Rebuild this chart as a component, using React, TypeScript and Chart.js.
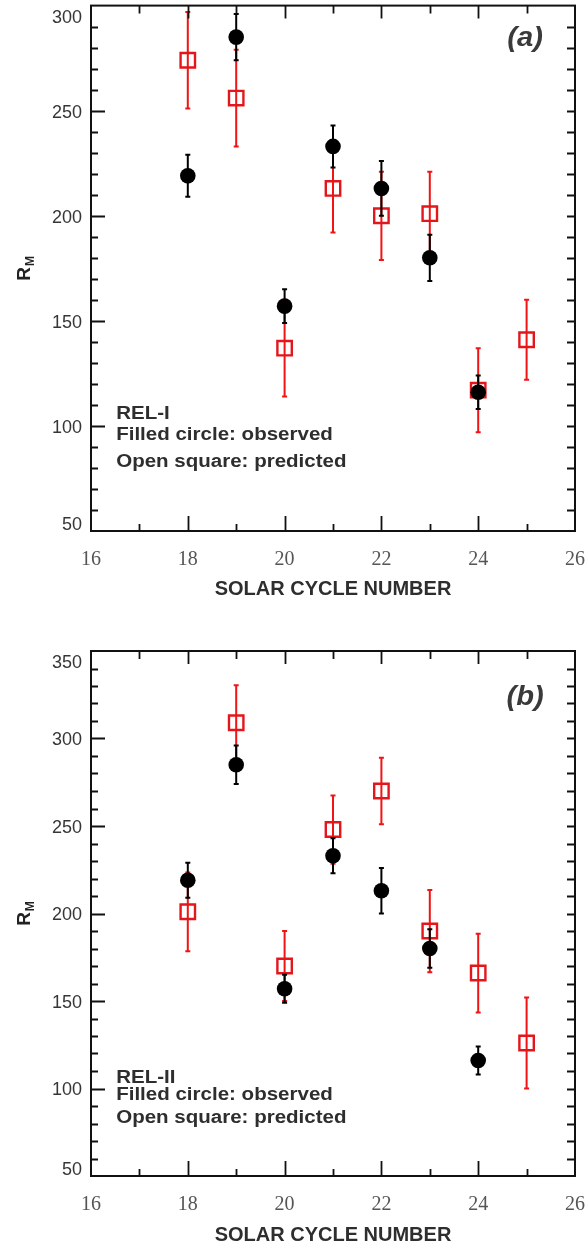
import React, { useEffect, useRef } from "react";
import { Chart, registerables } from "chart.js";

Chart.register(...registerables);

// ---- data ----
const observedCycles = [18, 19, 20, 21, 22, 23, 24];
const observed = [219, 285, 157, 233, 213, 180, 116];
const observedErr = [10, 11, 8, 10, 13, 11, 8];

const predictedCycles = [18, 19, 20, 21, 22, 23, 24, 25];
const predictedA = [274, 256, 137, 213, 200, 201, 117, 141];
const predictedAErr = [23, 23, 23, 21, 21, 20, 20, 19];
const predictedB = [201, 309, 170, 248, 270, 190, 166, 126];
const predictedBErr = [22.5, 21.5, 20, 19.5, 19, 23.5, 22.5, 26];

const xTickLabels = [16, 18, 20, 22, 24, 26];
const yTicksA = [50, 100, 150, 200, 250, 300];
const yTicksB = [50, 100, 150, 200, 250, 300, 350];

const xTitle = "SOLAR CYCLE NUMBER";
const panelTags = ["(a)", "(b)"];
const relLabels = ["REL-I", "REL-II"];
const noteLines = ["Filled circle: observed", "Open square: predicted"];

const RED = "#e3161c";
const INK = "#111";
const TEXT = "#363636";

type PanelCfg = {
  predicted: number[];
  predictedErr: number[];
  yTicks: number[];
  tag: string;
  rel: string;
  height: number;
  offsetTop: number;
  padTop: number;
  xAxisHeight: number;
  titlePadBottom: number;
  tagY: number;
};

function stretchedText(ctx: any, text: string, x: number, y: number, sx: number) {
  ctx.save();
  ctx.translate(x, y);
  ctx.scale(sx, 1);
  ctx.fillText(text, 0, 0);
  ctx.restore();
}

const annotPlugin = {
  id: "annot",
  beforeDatasetDraw(chart: any, args: any) {
    const ds = chart.data.datasets[args.index];
    const errs: number[] = ds.errors;
    if (!errs) return;
    const { ctx } = chart;
    const x = chart.scales.x;
    const y = chart.scales.y;
    ctx.save();
    ctx.strokeStyle = ds.errorColor;
    ctx.lineWidth = 2;
    ds.data.forEach((p: any, i: number) => {
      const px = x.getPixelForValue(p.x);
      const top = y.getPixelForValue(p.y + errs[i]);
      const bot = y.getPixelForValue(p.y - errs[i]);
      ctx.beginPath();
      ctx.moveTo(px, top);
      ctx.lineTo(px, bot);
      ctx.moveTo(px - 2.5, top);
      ctx.lineTo(px + 2.5, top);
      ctx.moveTo(px - 2.5, bot);
      ctx.lineTo(px + 2.5, bot);
      ctx.stroke();
    });
    ctx.restore();
  },
  afterDraw(chart: any) {
    const { ctx, chartArea: ca } = chart;
    const x = chart.scales.x;
    const y = chart.scales.y;
    const cfg = chart.options.plugins.annot;
    ctx.save();
    // frame
    ctx.strokeStyle = INK;
    ctx.lineWidth = 2;
    ctx.strokeRect(ca.left, ca.top, ca.right - ca.left, ca.bottom - ca.top);
    ctx.lineWidth = 1.8;
    ctx.beginPath();
    for (let v = x.min + 1; v < x.max; v += 1) {
      const px = Math.round(x.getPixelForValue(v)) + 0.5;
      const major = v % 2 === 0;
      ctx.moveTo(px, ca.bottom);
      ctx.lineTo(px, ca.bottom - (major ? 15 : 7));
      ctx.moveTo(px, ca.top);
      ctx.lineTo(px, ca.top + (major ? 13 : 8));
    }
    for (let v = y.min + 10; v < y.max; v += 10) {
      const py = Math.round(y.getPixelForValue(v)) + 0.5;
      const major = v % 50 === 0;
      ctx.moveTo(ca.left, py);
      ctx.lineTo(ca.left + (major ? 14 : 7), py);
      ctx.moveTo(ca.right, py);
      ctx.lineTo(ca.right - 8, py);
    }
    ctx.stroke();

    // y tick labels
    ctx.fillStyle = TEXT;
    ctx.font = "18px 'Liberation Sans', Arial, sans-serif";
    ctx.textAlign = "right";
    ctx.textBaseline = "middle";
    cfg.yTicks.forEach((v: number) => {
      let py = y.getPixelForValue(v) + 2;
      py = Math.max(py, ca.top + 12);
      py = Math.min(py, ca.bottom - 6);
      ctx.fillText(String(v), ca.left - 9, py);
    });

    // y title R_M
    const cy = (ca.top + ca.bottom) / 2;
    ctx.save();
    ctx.translate(30, cy);
    ctx.rotate(-Math.PI / 2);
    ctx.textAlign = "left";
    ctx.textBaseline = "alphabetic";
    ctx.fillStyle = "#222";
    ctx.font = "bold 19px 'Liberation Sans', Arial, sans-serif";
    const wR = ctx.measureText("R").width;
    ctx.font = "bold 12px 'Liberation Sans', Arial, sans-serif";
    const wM = ctx.measureText("M").width;
    const start = -(wR + wM + 1) / 2;
    ctx.font = "bold 19px 'Liberation Sans', Arial, sans-serif";
    ctx.fillText("R", start, 0);
    ctx.font = "bold 12px 'Liberation Sans', Arial, sans-serif";
    ctx.fillText("M", start + wR + 1, 4);
    ctx.restore();

    // notes
    ctx.fillStyle = "#2e2e2e";
    ctx.textAlign = "left";
    ctx.textBaseline = "alphabetic";
    ctx.font = "bold 18px 'Liberation Sans', Arial, sans-serif";
    const nx = x.getPixelForValue(16.52);
    stretchedText(ctx, cfg.rel, nx, y.getPixelForValue(103.3), 1.14);
    stretchedText(ctx, noteLines[0], nx, y.getPixelForValue(93.4), 1.14);
    stretchedText(ctx, noteLines[1], nx, y.getPixelForValue(80.4), 1.14);

    // panel tag
    ctx.fillStyle = "#3a3a3a";
    ctx.textAlign = "center";
    ctx.font = "italic bold 27px 'Liberation Sans', Arial, sans-serif";
    stretchedText(ctx, cfg.tag, x.getPixelForValue(24.97), y.getPixelForValue(cfg.tagY), 1.08);
    ctx.restore();
  },
};

function zeroPad(s: any) {
  s.paddingTop = 0;
  s.paddingBottom = 0;
  s.paddingLeft = 0;
  s.paddingRight = 0;
}

function Panel({ cfg }: { cfg: PanelCfg }) {
  const ref = useRef<HTMLCanvasElement | null>(null);
  useEffect(() => {
    if (!ref.current) return;
    const chart = new Chart(ref.current, {
      type: "scatter",
      data: {
        datasets: [
          {
            label: "observed",
            data: observedCycles.map((c, i) => ({ x: c, y: observed[i] })),
            pointStyle: "circle",
            pointRadius: 7.8,
            pointBackgroundColor: "#000",
            pointBorderWidth: 0,
            showLine: false,
            errors: observedErr,
            errorColor: "#000",
          } as any,
          {
            label: "predicted",
            data: predictedCycles.map((c, i) => ({ x: c, y: cfg.predicted[i] })),
            pointStyle: "rect",
            pointRadius: 10.2,
            pointBackgroundColor: "rgba(0,0,0,0)",
            pointBorderColor: RED,
            pointBorderWidth: 2.4,
            showLine: false,
            errors: cfg.predictedErr,
            errorColor: "#f01414",
          } as any,
        ],
      },
      options: {
        animation: false,
        responsive: false,
        maintainAspectRatio: false,
        events: [],
        layout: { padding: { left: 0, right: 13, top: cfg.padTop, bottom: 0 } },
        plugins: {
          legend: { display: false },
          tooltip: { enabled: false },
          annot: { yTicks: cfg.yTicks, tag: cfg.tag, rel: cfg.rel, tagY: cfg.tagY },
        } as any,
        scales: {
          x: {
            type: "linear",
            min: xTickLabels[0],
            max: xTickLabels[xTickLabels.length - 1],
            afterBuildTicks: (s: any) => {
              s.ticks = xTickLabels.map((v) => ({ value: v }));
            },
            ticks: {
              font: { family: "'Liberation Serif', 'Times New Roman', serif", size: 20 },
              color: "#555",
              padding: 17,
              maxRotation: 0,
              autoSkip: false,
            },
            grid: { display: false, drawTicks: false },
            border: { display: false },
            title: {
              display: true,
              text: xTitle,
              color: "#2e2e2e",
              font: { family: "'Liberation Sans', Arial, sans-serif", size: 20, weight: "bold" },
              padding: { top: 0, bottom: cfg.titlePadBottom },
            },
            afterFit: (s: any) => {
              s.height = cfg.xAxisHeight;
              zeroPad(s);
            },
          },
          y: {
            type: "linear",
            min: cfg.yTicks[0],
            max: cfg.yTicks[cfg.yTicks.length - 1],
            ticks: { display: false, stepSize: 50 },
            grid: { display: false, drawTicks: false },
            border: { display: false },
            afterFit: (s: any) => {
              s.width = 91;
              zeroPad(s);
            },
          },
        },
      },
      plugins: [annotPlugin],
    } as any);
    return () => chart.destroy();
  }, [cfg]);
  return (
    <canvas
      ref={ref}
      width={588}
      height={cfg.height}
      style={{ display: "block", width: 588, height: cfg.height, marginTop: cfg.offsetTop }}
    />
  );
}

const panelA: PanelCfg = {
  predicted: predictedA,
  predictedErr: predictedAErr,
  yTicks: yTicksA,
  tag: panelTags[0],
  rel: relLabels[0],
  height: 627,
  offsetTop: -7,
  padTop: 12,
  xAxisHeight: 89,
  titlePadBottom: 19,
  tagY: 281,
};

const panelB: PanelCfg = {
  predicted: predictedB,
  predictedErr: predictedBErr,
  yTicks: yTicksB,
  tag: panelTags[1],
  rel: relLabels[1],
  height: 629,
  offsetTop: 0,
  padTop: 31,
  xAxisHeight: 73,
  titlePadBottom: 2,
  tagY: 319,
};

export default function App() {
  return (
    <div
      style={{
        position: "absolute",
        left: 0,
        top: 0,
        width: 588,
        height: 1249,
        background: "#fff",
        overflow: "hidden",
      }}
    >
      <Panel cfg={panelA} />
      <Panel cfg={panelB} />
    </div>
  );
}
